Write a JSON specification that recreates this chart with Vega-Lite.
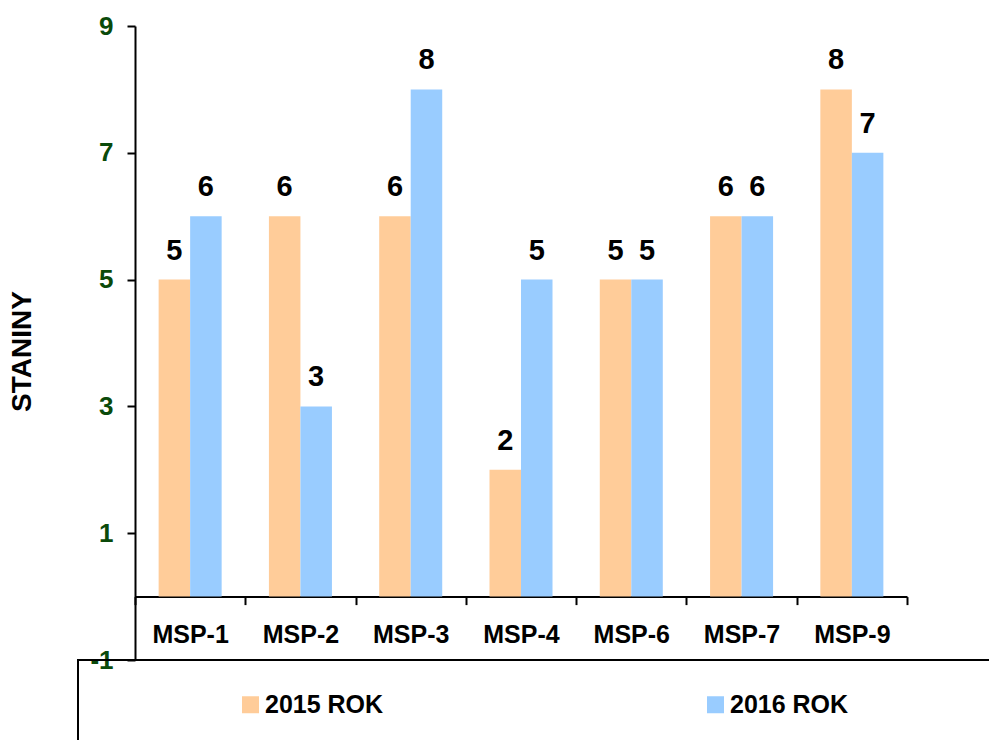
{
  "$schema": "https://vega.github.io/schema/vega-lite/v6.json",
  "width": 772,
  "height": 634,
  "autosize": {"type": "none"},
  "padding": {"left": 135, "top": 26, "right": 82, "bottom": 80},
  "background": "white",
  "config": {"view": {"stroke": null}, "font": "Liberation Sans", "legend": {"strokeWidth": 2}},
  "data": {
    "values": [
      {"test": "MSP-1", "year": "2015 ROK", "value": 5},
      {"test": "MSP-1", "year": "2016 ROK", "value": 6},
      {"test": "MSP-2", "year": "2015 ROK", "value": 6},
      {"test": "MSP-2", "year": "2016 ROK", "value": 3},
      {"test": "MSP-3", "year": "2015 ROK", "value": 6},
      {"test": "MSP-3", "year": "2016 ROK", "value": 8},
      {"test": "MSP-4", "year": "2015 ROK", "value": 2},
      {"test": "MSP-4", "year": "2016 ROK", "value": 5},
      {"test": "MSP-6", "year": "2015 ROK", "value": 5},
      {"test": "MSP-6", "year": "2016 ROK", "value": 5},
      {"test": "MSP-7", "year": "2015 ROK", "value": 6},
      {"test": "MSP-7", "year": "2016 ROK", "value": 6},
      {"test": "MSP-9", "year": "2015 ROK", "value": 8},
      {"test": "MSP-9", "year": "2016 ROK", "value": 7}
    ]
  },
  "encoding": {
    "x": {
      "field": "test",
      "type": "nominal",
      "sort": null,
      "scale": {"paddingInner": 0, "paddingOuter": 0},
      "axis": {
        "title": null,
        "labelAngle": 0,
        "offset": -63.4,
        "tickBand": "extent",
        "tickSize": 8,
        "tickWidth": 2,
        "tickColor": "black",
        "domainColor": "black",
        "domainWidth": 2,
        "labelPadding": 18,
        "labelFontSize": 25,
        "labelFontWeight": "bold",
        "labelColor": "black",
        "grid": false
      }
    },
    "xOffset": {
      "field": "year",
      "type": "nominal",
      "sort": null,
      "scale": {"paddingInner": 0, "paddingOuter": 0.75}
    },
    "y": {
      "field": "value",
      "type": "quantitative",
      "scale": {"domain": [-1, 9], "nice": false, "zero": false},
      "axis": {
        "title": "STANINY",
        "titleFontSize": 28,
        "titleFontWeight": "bold",
        "titleColor": "black",
        "titleX": -113,
        "titleY": 325,
        "titleBaseline": "middle",
        "values": [-1, 1, 3, 5, 7, 9],
        "labelExpr": "'' + datum.value",
        "grid": false,
        "tickSize": 8,
        "tickWidth": 2,
        "tickColor": "black",
        "domainColor": "black",
        "domainWidth": 2,
        "labelPadding": 14,
        "labelFontSize": 26,
        "labelFontWeight": "bold",
        "labelColor": "#0a4a0a"
      }
    }
  },
  "layer": [
    {
      "mark": {"type": "bar"},
      "encoding": {
        "y2": {"datum": 0},
        "color": {
          "field": "year",
          "type": "nominal",
          "scale": {"domain": ["2015 ROK", "2016 ROK"], "range": ["#FFCC99", "#99CCFF"]},
          "legend": {
            "title": " ",
            "titleOrient": "right",
            "titlePadding": 270,
            "orient": "none",
            "legendX": -57,
            "legendY": 634,
            "direction": "horizontal",
            "columns": 2,
            "padding": 32,
            "strokeColor": "black",
            "symbolType": "square",
            "symbolSize": 289,
            "symbolOffset": 128,
            "symbolStrokeWidth": 0,
            "symbolOpacity": 1,
            "labelOffset": 2,
            "labelFontSize": 25,
            "labelFontWeight": "bold",
            "labelColor": "black",
            "columnPadding": 191
          }
        }
      }
    },
    {
      "mark": {"type": "text", "fontSize": 29, "fontWeight": "bold", "color": "black", "baseline": "alphabetic", "dy": -20},
      "encoding": {"text": {"field": "value", "type": "quantitative"}}
    }
  ]
}
